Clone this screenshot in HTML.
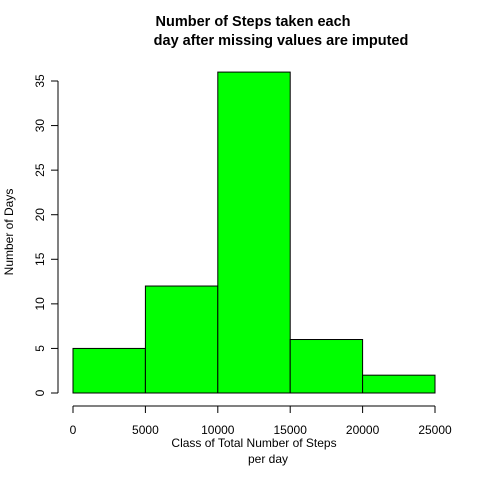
<!DOCTYPE html>
<html><head><meta charset="utf-8"><style>
html,body{margin:0;padding:0;background:#fff;}
svg{display:block;font-family:"Liberation Sans",Arial,sans-serif;}
</style></head><body>
<svg id="chart" width="480" height="480" viewBox="0 0 480 480">
<text x="253" y="26" font-size="14.5" font-weight="bold" text-anchor="middle">Number of Steps taken each</text>
<text x="281" y="45" font-size="14.5" font-weight="bold" text-anchor="middle">day after missing values are imputed</text>
<text x="254" y="447" font-size="12" text-anchor="middle">Class of Total Number of Steps</text>
<text x="268" y="463" font-size="12" text-anchor="middle">per day</text>
<text transform="translate(13,232) rotate(-90)" font-size="12" text-anchor="middle">Number of Days</text>
<g id="bars"></g><g id="xaxis"></g><g id="yaxis"></g>
</svg>
<script>
const binEdges=[0,5000,10000,15000,20000,25000];
const counts=[5,12,36,6,2];
const xTicks=[0,5000,10000,15000,20000,25000];
const yTicks=[0,5,10,15,20,25,30,35];
const NS="http://www.w3.org/2000/svg";
function sx(v){return 73+(v-0)*(435-73)/25000;}
function sy(v){return 393-v*(393-81)/35;}
function mk(t,a,p){const e=document.createElementNS(NS,t);for(const k in a)e.setAttribute(k,a[k]);p.appendChild(e);return e;}
const bars=document.getElementById('bars');
counts.forEach((c,i)=>{
  const r=mk('rect',{x:sx(binEdges[i]),y:sy(c),width:sx(binEdges[i+1])-sx(binEdges[i]),height:sy(0)-sy(c),fill:'#00ff00',stroke:'#000','stroke-width':1},bars);
  
  
});
const xa=document.getElementById('xaxis');
const xl=mk('line',{x1:sx(xTicks[0]),x2:sx(xTicks[xTicks.length-1]),y1:406,y2:406,stroke:'#000'},xa);


xTicks.forEach(v=>{
  mk('line',{x1:sx(v),x2:sx(v),y1:406,y2:413,stroke:'#000'},xa);
  const t=mk('text',{x:sx(v),y:434,'font-size':12,'text-anchor':'middle'},xa);t.textContent=v;
  
  
});
const ya=document.getElementById('yaxis');
const yl=mk('line',{x1:58,x2:58,y1:sy(yTicks[0]),y2:sy(yTicks[yTicks.length-1]),stroke:'#000'},ya);


yTicks.forEach(v=>{
  mk('line',{x1:51,x2:58,y1:sy(v),y2:sy(v),stroke:'#000'},ya);
  const t=mk('text',{transform:`translate(44,${sy(v)}) rotate(-90)`,'font-size':12,'text-anchor':'middle'},ya);t.textContent=v;
  
  
});
</script>
</body></html>
